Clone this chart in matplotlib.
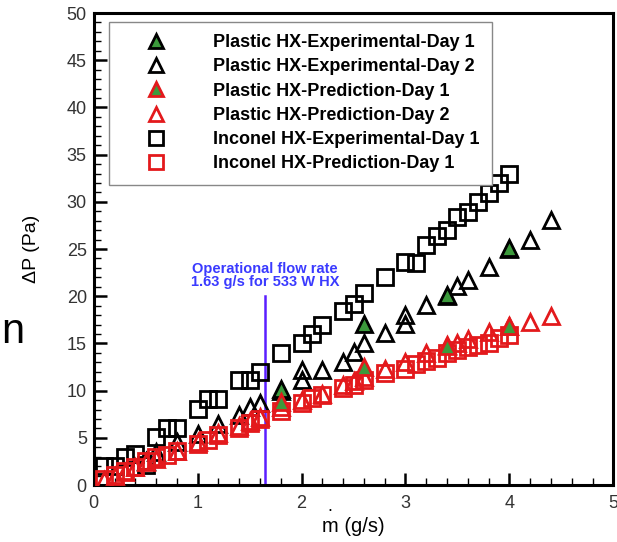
import numpy as np
import matplotlib
matplotlib.use('Agg')
import matplotlib.pyplot as plt
from matplotlib.ticker import MultipleLocator

plt.rcParams['font.family'] = ['Liberation Sans', 'DejaVu Sans']

# Inconel HX - experimental, day 1
inc_exp_x = [0.1, 0.2, 0.3, 0.4, 0.5, 0.6, 0.7, 0.8, 1.0, 1.1, 1.2, 1.4, 1.5, 1.6, 1.8, 2.0, 2.1,
             2.2, 2.4, 2.5, 2.6, 2.8, 3.0, 3.1, 3.2, 3.3, 3.4, 3.5, 3.6, 3.7, 3.8, 3.9, 4.0]
inc_exp_y = [2.0, 2.0, 3.0, 3.3, 2.1, 5.1, 6.0, 6.0, 8.1, 9.1, 9.1, 11.1, 11.1, 12.0, 14.0, 15.0, 16.0,
             17.0, 18.4, 19.2, 20.3, 22.0, 23.6, 23.5, 25.4, 26.4, 27.0, 28.4, 28.9, 30.0, 30.9, 32.0, 33.0]

# Inconel HX - prediction, day 1
inc_pred_x = [0.1, 0.2, 0.3, 0.4, 0.5, 0.6, 0.7, 0.8, 1.0, 1.1, 1.2, 1.4, 1.5, 1.6, 1.8, 2.0, 2.1,
              2.2, 2.4, 2.5, 2.6, 2.8, 3.0, 3.1, 3.2, 3.3, 3.4, 3.5, 3.6, 3.7, 3.8, 3.9, 4.0]
inc_pred_y = [0.6, 1.1, 1.5, 1.9, 2.5, 3.0, 3.2, 3.6, 4.4, 4.8, 5.3, 6.0, 6.6, 7.0, 7.9, 8.7, 9.2,
              9.5, 10.3, 10.6, 11.1, 11.9, 12.3, 12.8, 13.1, 13.5, 14.0, 14.3, 14.6, 14.8, 15.1, 15.6, 15.9]

# Plastic HX - experimental, day 2
pl_exp2_x = [0.5, 0.6, 0.8, 1.0, 1.2, 1.4, 1.5, 1.6, 1.8, 2.0, 2.0, 2.2, 2.4, 2.5, 2.6, 2.8, 3.0,
             3.0, 3.2, 3.4, 3.5, 3.6, 3.8, 4.0, 4.2, 4.4]
pl_exp2_y = [2.6, 3.5, 4.6, 5.4, 6.5, 7.4, 8.3, 8.7, 10.0, 11.1, 12.2, 12.2, 13.0, 14.1, 15.0, 16.1, 17.1,
             18.0, 19.1, 20.0, 21.1, 21.7, 23.1, 25.0, 26.0, 28.1]

# Plastic HX - experimental, day 1
pl_exp1_x = [1.8, 2.6, 3.4, 4.0]
pl_exp1_y = [10.2, 17.1, 20.1, 25.1]

# Plastic HX - prediction, day 1
pl_pred1_x = [1.8, 2.6, 3.4, 4.0]
pl_pred1_y = [8.8, 12.5, 14.7, 16.8]

# Plastic HX - prediction, day 2
pl_pred2_x = [0.1, 0.2, 0.3, 0.4, 0.5, 0.6, 0.8, 1.0, 1.2, 1.4, 1.5, 1.6, 1.8, 2.0, 2.2, 2.4, 2.5,
              2.6, 2.8, 3.0, 3.2, 3.4, 3.5, 3.6, 3.8, 4.0, 4.2, 4.4]
pl_pred2_y = [0.5, 1.0, 1.4, 1.9, 2.4, 2.8, 3.6, 4.6, 5.5, 6.3, 6.8, 7.2, 8.3, 9.0, 9.7, 10.6, 11.0,
              11.5, 12.3, 13.0, 14.0, 14.8, 15.1, 15.5, 16.2, 16.9, 17.3, 17.9]

op_flow = 1.65

red = '#e3191c'
green = '#3c9a3c'
ms = 11
mew = 2.0

fig = plt.figure(figsize=(6.17, 5.42), dpi=100)
ax = fig.add_axes([0.152, 0.105, 0.842, 0.871])

ax.plot(inc_exp_x, inc_exp_y, 's', ms=ms, mfc='none', mec='black', mew=mew,
        label='Inconel HX-Experimental-Day 1', zorder=3)
ax.plot(pl_exp2_x, pl_exp2_y, '^', ms=ms, mfc='none', mec='black', mew=mew,
        label='Plastic HX-Experimental-Day 2', zorder=3)
ax.plot(pl_pred2_x, pl_pred2_y, '^', ms=ms, mfc='none', mec=red, mew=mew,
        label='Plastic HX-Prediction-Day 2', zorder=3)
ax.plot(inc_pred_x, inc_pred_y, 's', ms=ms, mfc='none', mec=red, mew=mew,
        label='Inconel HX-Prediction-Day 1', zorder=4)
ax.plot(pl_exp1_x, pl_exp1_y, '^', ms=ms, mfc=green, mec='black', mew=mew,
        label='Plastic HX-Experimental-Day 1', zorder=5)
ax.plot(pl_pred1_x, pl_pred1_y, '^', ms=ms, mfc=green, mec=red, mew=mew,
        label='Plastic HX-Prediction-Day 1', zorder=5)

# operational flow rate
ax.plot([op_flow, op_flow], [0, 20], color='#5a1eff', lw=1.8, zorder=2)
ax.text(op_flow, 22.2, 'Operational flow rate\n1.63 g/s for 533 W HX', color='#3a3aff',
        fontsize=10.5, fontweight='bold', ha='center', va='center', linespacing=0.95)

ax.set_xlim(0, 5)
ax.set_ylim(0, 50)
ax.xaxis.set_major_locator(MultipleLocator(1))
ax.xaxis.set_minor_locator(MultipleLocator(0.2))
ax.yaxis.set_major_locator(MultipleLocator(5))
ax.yaxis.set_minor_locator(MultipleLocator(1))
ax.tick_params(which='major', direction='in', length=9, width=1.8, labelsize=13,
               labelcolor='#333333')
ax.tick_params(which='minor', direction='in', length=5, width=1.0)
ax.tick_params(axis='x', which='major', pad=7)
ax.tick_params(axis='y', which='major', pad=5)
for s in ax.spines.values():
    s.set_linewidth(2.2)

ax.set_xlabel('m (g/s)', fontsize=14.5, labelpad=4)
ax.set_ylabel('ΔP (Pa)', fontsize=14, labelpad=19)
fig.text(0.535, 0.058, '.', fontsize=13, ha='center', va='baseline')
fig.text(0.002, 0.367, 'n', fontsize=30, ha='left', va='baseline')

h, l = ax.get_legend_handles_labels()
order = ['Plastic HX-Experimental-Day 1', 'Plastic HX-Experimental-Day 2',
         'Plastic HX-Prediction-Day 1', 'Plastic HX-Prediction-Day 2',
         'Inconel HX-Experimental-Day 1', 'Inconel HX-Prediction-Day 1']
hd = dict(zip(l, h))
leg = ax.legend([hd[k] for k in order], order, loc='upper left',
                bbox_to_anchor=(0.029, 0.981), borderaxespad=0, fancybox=False,
                edgecolor='#888888', framealpha=1, handlelength=3.9, handletextpad=1.2,
                borderpad=0.68, labelspacing=0.4, prop={'weight': 'bold', 'size': 13})
leg.get_frame().set_linewidth(1.0)
for lh in leg.legend_handles:
    lh.set_markersize(10)

fig.savefig('out.png', dpi=100)
